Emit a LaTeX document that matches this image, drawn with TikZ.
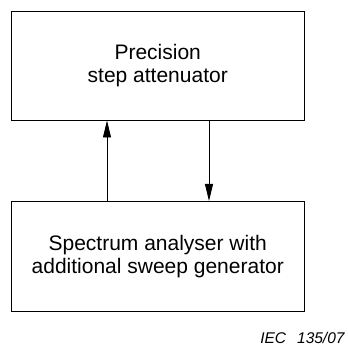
\documentclass[tikz,border=0pt]{standalone}
\usepackage{fontspec}
\setmainfont{Liberation Sans}
\usetikzlibrary{arrows.meta,positioning}

\begin{document}
\begin{tikzpicture}[x=1pt,y=1pt,line width=0.9pt,
 blk/.style={draw, minimum width=292.5pt, align=center, inner sep=0pt, outer sep=0pt,
  font=\fontsize{21}{23}\selectfont},
 arr/.style={-{Triangle[length=17pt,width=8pt]}}]
\useasboundingbox (0,0) rectangle (348,347);
\node[blk, minimum height=109.5pt] (att) at (157.75, 281.25) {Precision\\step attenuator};
\node[blk, minimum height=110.5pt] (sa) at (157.75, 90.75) {Spectrum analyser with\\additional sweep generator};
\node[anchor=base east, inner sep=0pt, font=\fontsize{15.5}{18}\selectfont\itshape] (tag) at (345, 3.7) {IEC\hspace{11pt}135/07};

\draw[arr] ([xshift=-50.75pt]sa.north) -- ([xshift=-50.75pt]att.south);
\draw[arr] ([xshift=51.25pt]att.south) -- ([xshift=51.25pt]sa.north);
\end{tikzpicture}
\end{document}
